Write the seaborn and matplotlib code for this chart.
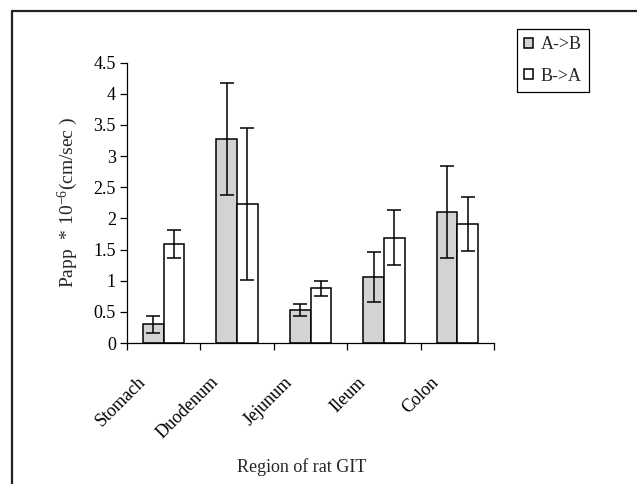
import os
import numpy as np
import pandas as pd
import matplotlib
matplotlib.use("Agg")
import matplotlib.pyplot as plt
import matplotlib.transforms as mtransforms
from matplotlib import font_manager
from matplotlib.lines import Line2D
import seaborn as sns

# dados
regions = ["Stomach", "Duodenum", "Jejunum", "Ileum", "Colon"]
directions = ["A->B", "B->A"]
papp_ab = [0.30, 3.27, 0.53, 1.06, 2.10]
papp_ba = [1.59, 2.23, 0.88, 1.69, 1.91]
err_ab = [0.14, 0.90, 0.10, 0.40, 0.74]
err_ba = [0.23, 1.22, 0.12, 0.44, 0.43]

sns.set_style("ticks")

# fonte tipo Times: procura o arquivo da Liberation Serif
serif_name = 'DejaVu Serif'
for path in font_manager.findSystemFonts():
    if os.path.basename(path).lower().startswith('liberationserif-regular'):
        font_manager.fontManager.addfont(path)
        serif_name = font_manager.FontProperties(fname=path).get_name()
        break
plt.rcParams['font.family'] = [serif_name, 'DejaVu Serif']
plt.rcParams['mathtext.fontset'] = 'custom'
plt.rcParams['mathtext.rm'] = serif_name
plt.rcParams['mathtext.it'] = serif_name + ':italic'

df = pd.DataFrame({
    'Region': regions * 2,
    'Direction': [directions[0]] * 5 + [directions[1]] * 5,
    'Papp': papp_ab + papp_ba,
    'Err': err_ab + err_ba,
})

fig = plt.figure(figsize=(6.37, 4.84), dpi=100)
ax = fig.add_axes([0.1994, 0.2913, 0.5761, 0.5792])

sns.barplot(data=df, x='Region', y='Papp', hue='Direction', order=regions,
            hue_order=directions, palette=['#d3d3d3', 'white'], width=0.564,
            gap=0, edgecolor='black', linewidth=1.1, errorbar=None, ax=ax,
            legend=True)

# barras de erro nas posições dos retângulos
for patch_list, errs, vals in [(ax.patches[:5], err_ab, papp_ab),
                               (ax.patches[5:10], err_ba, papp_ba)]:
    xs = [p.get_x() + p.get_width() / 2 for p in patch_list]
    ax.errorbar(xs, vals, yerr=errs, fmt='none', ecolor='black',
                elinewidth=1.1, capsize=4.7, capthick=1.1)

ax.set_ylim(0, 4.5)
ax.set_yticks(np.arange(0, 4.51, 0.5))
ax.set_yticklabels(['0', '0.5', '1', '1.5', '2', '2.5', '3', '3.5', '4', '4.5'])
ax.set_xlim(-0.5, 4.5)
ax.set_xticks(range(5))
ax.set_xticks(np.arange(-0.5, 4.6, 1), minor=True)
ax.tick_params(axis='x', which='major', length=0, pad=22)
ax.tick_params(axis='x', which='minor', length=5, width=0.9, direction='out', color='black')
ax.tick_params(axis='y', length=5, width=0.9, direction='out', color='black', pad=3)
ax.tick_params(labelsize=13, colors='black')

offset = mtransforms.ScaledTranslation(-15 / 100, 0, fig.dpi_scale_trans)
for lab in ax.get_xticklabels():
    lab.set_rotation(45)
    lab.set_ha('right')
    lab.set_va('top')
    lab.set_transform(lab.get_transform() + offset)

sns.despine(ax=ax)
for s in ['left', 'bottom']:
    ax.spines[s].set_linewidth(0.9)
    ax.spines[s].set_color('black')

ax.set_xlabel('Region of rat GIT', fontsize=13)
ax.set_ylabel('Papp  * 10$^{-6}$(cm/sec )', fontsize=14, labelpad=10)
ax.xaxis.set_label_coords(0.475, -0.41)

leg = ax.legend(loc='upper left', bbox_to_anchor=(517 / 637, 1 - 29 / 484),
                bbox_transform=fig.transFigure, fontsize=13, frameon=True,
                fancybox=False, framealpha=1, edgecolor='black',
                handlelength=0.5, handleheight=0.5, handletextpad=0.4,
                borderpad=0.4, labelspacing=0.8, borderaxespad=0)
leg.get_frame().set_linewidth(0.9)

# moldura externa (só esquerda e topo visíveis)
fig.add_artist(Line2D([12 / 637, 12 / 637], [0, 1 - 11 / 484], color='#222222', lw=1.6))
fig.add_artist(Line2D([12 / 637, 1], [1 - 11 / 484, 1 - 11 / 484], color='#222222', lw=1.6))

fig.savefig('out.png', dpi=100)
